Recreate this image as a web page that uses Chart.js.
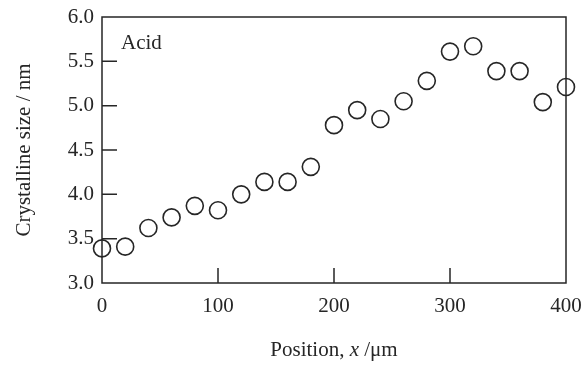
<!DOCTYPE html>
<html>
<head>
<meta charset="utf-8">
<script src="https://cdn.jsdelivr.net/npm/chart.js@4"></script>
<style>
  html, body { margin: 0; padding: 0; background: #fff; }
  #wrap { width: 586px; height: 365px; }
</style>
</head>
<body>
<div id="wrap"><canvas id="chart" width="586" height="365"></canvas></div>
<script>
// data
const positions = [0, 20, 40, 60, 80, 100, 120, 140, 160, 180, 200, 220, 240, 260, 280, 300, 320, 340, 360, 380, 400];
const sizes = [3.39, 3.41, 3.62, 3.74, 3.87, 3.82, 4.00, 4.14, 4.14, 4.31, 4.78, 4.95, 4.85, 5.05, 5.28, 5.61, 5.67, 5.39, 5.39, 5.04, 5.21];
const xTicks = [0, 100, 200, 300, 400];
const yTicks = [3.0, 3.5, 4.0, 4.5, 5.0, 5.5, 6.0];
const panelLabel = "Acid";

const ink = "#262626";
const serif = "'Liberation Serif', 'DejaVu Serif', serif";
const fontSize = 21;

// frame, inward ticks, label and x axis title
const framePlugin = {
    id: "frame",
    afterDraw(chart) {
        const { ctx, chartArea: a, scales } = chart;
        ctx.save();
        ctx.strokeStyle = ink;
        ctx.lineWidth = 1.5;
        ctx.strokeRect(a.left, a.top, a.right - a.left, a.bottom - a.top);

        const tickLen = 15;
        ctx.beginPath();
        xTicks.slice(1, -1).forEach((v) => {
            const px = scales.x.getPixelForValue(v);
            ctx.moveTo(px, a.bottom);
            ctx.lineTo(px, a.bottom - tickLen);
        });
        yTicks.slice(1, -1).forEach((v) => {
            const py = scales.y.getPixelForValue(v);
            ctx.moveTo(a.left, py);
            ctx.lineTo(a.left + tickLen, py);
        });
        ctx.stroke();

        ctx.fillStyle = ink;
        ctx.font = fontSize + "px " + serif;
        ctx.textBaseline = "middle";
        ctx.textAlign = "left";
        ctx.fillText(panelLabel, a.left + 19, a.top + 26);

        // x title with italic x
        const parts = [
            { t: "Position, ", f: fontSize + "px " + serif },
            { t: "x", f: "italic " + fontSize + "px " + serif },
            { t: " /\u03bcm", f: fontSize + "px " + serif },
        ];
        let total = 0;
        parts.forEach((p) => { ctx.font = p.f; p.w = ctx.measureText(p.t).width; total += p.w; });
        let x = (a.left + a.right) / 2 - total / 2;
        ctx.textBaseline = "alphabetic";
        parts.forEach((p) => {
            ctx.font = p.f;
            ctx.fillText(p.t, x, 356);
            x += p.w;
        });
        ctx.restore();
    },
};

new Chart(document.getElementById("chart"), {
    type: "scatter",
    data: {
        datasets: [{
            data: positions.map((p, i) => ({ x: p, y: sizes[i] })),
            pointStyle: "circle",
            pointRadius: 8.5,
            pointHoverRadius: 8.5,
            borderColor: ink,
            borderWidth: 1.6,
            backgroundColor: "rgba(0,0,0,0)",
            clip: false,
        }],
    },
    options: {
        responsive: false,
        animation: false,
        layout: { padding: { top: 17, right: 20, left: 0, bottom: 0 } },
        plugins: { legend: { display: false }, tooltip: { enabled: false } },
        scales: {
            x: {
                type: "linear",
                min: 0,
                max: 400,
                afterBuildTicks: (s) => { s.ticks = xTicks.map((v) => ({ value: v })); },
                afterFit: (s) => { s.height = 82; s.paddingLeft = 0; s.paddingRight = 0; },
                grid: { display: false, drawTicks: false },
                border: { display: false },
                ticks: { color: ink, padding: 11, font: { family: serif, size: fontSize } },
            },
            y: {
                type: "linear",
                min: 3,
                max: 6,
                afterBuildTicks: (s) => { s.ticks = yTicks.map((v) => ({ value: v })); },
                afterFit: (s) => { s.width = 102; s.paddingTop = 0; s.paddingBottom = 0; },
                grid: { display: false, drawTicks: false },
                border: { display: false },
                ticks: {
                    color: ink,
                    padding: 8,
                    font: { family: serif, size: fontSize },
                    callback: (v) => Number(v).toFixed(1),
                },
                title: {
                    display: true,
                    text: "Crystalline size / nm",
                    color: ink,
                    font: { family: serif, size: fontSize },
                    padding: { top: 12, bottom: 0 },
                },
            },
        },
    },
    plugins: [framePlugin],
});
</script>
</body>
</html>
